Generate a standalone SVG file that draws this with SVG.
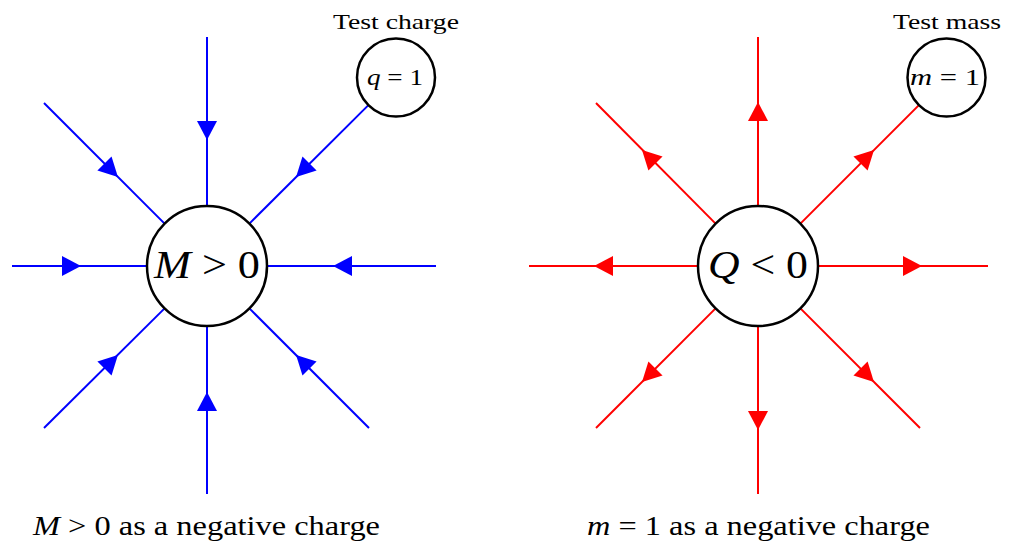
<svg xmlns="http://www.w3.org/2000/svg" xmlns:xlink="http://www.w3.org/1999/xlink" width="1014" height="542" viewBox="0 0 1014 542">
<style>
.bl{stroke:#0000ff;stroke-width:2;fill:none}
.rd{stroke:#ff0000;stroke-width:2;fill:none}
.node{fill:#ffffff;stroke:#000000;stroke-width:2.5}
.t{font-family:"Liberation Serif","DejaVu Serif",serif;fill:#000000}
.i{font-style:italic}
</style>
<defs>
<polygon id="arr" points="0,-10 19,0 0,10"/>
</defs>
<g id="connectors">
<g class="bl">
<line x1="207" y1="206" x2="207" y2="37"/>
<line x1="207" y1="326" x2="207" y2="494"/>
<line x1="147" y1="266" x2="12" y2="266"/>
<line x1="267" y1="266" x2="436" y2="266"/>
<line x1="164.6" y1="223.6" x2="44" y2="103"/>
<line x1="249.4" y1="223.6" x2="368.4" y2="105.1"/>
<line x1="164.6" y1="308.4" x2="44" y2="428"/>
<line x1="249.4" y1="308.4" x2="369" y2="428"/>
</g>
<g fill="#0000ff">
<use xlink:href="#arr" transform="translate(207 266) rotate(0) translate(145 0) rotate(180)"/>
<use xlink:href="#arr" transform="translate(207 266) rotate(45) translate(145 0) rotate(180)"/>
<use xlink:href="#arr" transform="translate(207 266) rotate(90) translate(145 0) rotate(180)"/>
<use xlink:href="#arr" transform="translate(207 266) rotate(135) translate(145 0) rotate(180)"/>
<use xlink:href="#arr" transform="translate(207 266) rotate(180) translate(145 0) rotate(180)"/>
<use xlink:href="#arr" transform="translate(207 266) rotate(225) translate(145 0) rotate(180)"/>
<use xlink:href="#arr" transform="translate(207 266) rotate(270) translate(145 0) rotate(180)"/>
<use xlink:href="#arr" transform="translate(207 266) rotate(315) translate(145 0) rotate(180)"/>
</g>
<g class="rd">
<line x1="758" y1="206" x2="758" y2="37"/>
<line x1="758" y1="326" x2="758" y2="494"/>
<line x1="698" y1="266" x2="529" y2="266"/>
<line x1="818" y1="266" x2="988" y2="266"/>
<line x1="715.6" y1="223.6" x2="596" y2="103"/>
<line x1="800.4" y1="223.6" x2="918.9" y2="105.1"/>
<line x1="715.6" y1="308.4" x2="596" y2="428"/>
<line x1="800.4" y1="308.4" x2="920" y2="428"/>
</g>
<g fill="#ff0000">
<use xlink:href="#arr" transform="translate(758 266) rotate(0) translate(145 0)"/>
<use xlink:href="#arr" transform="translate(758 266) rotate(45) translate(145 0)"/>
<use xlink:href="#arr" transform="translate(758 266) rotate(90) translate(145 0)"/>
<use xlink:href="#arr" transform="translate(758 266) rotate(135) translate(145 0)"/>
<use xlink:href="#arr" transform="translate(758 266) rotate(180) translate(145 0)"/>
<use xlink:href="#arr" transform="translate(758 266) rotate(225) translate(145 0)"/>
<use xlink:href="#arr" transform="translate(758 266) rotate(270) translate(145 0)"/>
<use xlink:href="#arr" transform="translate(758 266) rotate(315) translate(145 0)"/>
</g>
</g>
<g id="mass">
<circle class="node" cx="207" cy="266" r="60"/>
<text class="t" x="207" y="278" font-size="40" text-anchor="middle" textLength="106" lengthAdjust="spacingAndGlyphs"><tspan class="i">M</tspan> &gt; 0</text>
</g>
<g id="testcharge">
<circle class="node" cx="396" cy="77.5" r="39"/>
<text class="t" x="395" y="85" font-size="23" text-anchor="middle" textLength="56" lengthAdjust="spacingAndGlyphs"><tspan class="i">q</tspan> = 1</text>
<text class="t" x="396" y="29" font-size="22" text-anchor="middle" textLength="126" lengthAdjust="spacingAndGlyphs">Test charge</text>
</g>
<g id="charge">
<circle class="node" cx="758" cy="266" r="60"/>
<text class="t" x="758" y="278" font-size="40" text-anchor="middle" textLength="100" lengthAdjust="spacingAndGlyphs"><tspan class="i">Q</tspan> &lt; 0</text>
</g>
<g id="testmass">
<circle class="node" cx="946.5" cy="77.5" r="39"/>
<text class="t" x="945" y="85" font-size="23" text-anchor="middle" textLength="70" lengthAdjust="spacingAndGlyphs"><tspan class="i">m</tspan> = 1</text>
<text class="t" x="947" y="29" font-size="22" text-anchor="middle" textLength="108" lengthAdjust="spacingAndGlyphs">Test mass</text>
</g>
<g id="captions">
<text class="t" x="206.5" y="535" font-size="28" text-anchor="middle" textLength="347" lengthAdjust="spacingAndGlyphs"><tspan class="i">M</tspan> &gt; 0 as a negative charge</text>
<text class="t" x="758.5" y="535" font-size="28" text-anchor="middle" textLength="343" lengthAdjust="spacingAndGlyphs"><tspan class="i">m</tspan> = 1 as a negative charge</text>
</g>
</svg>
